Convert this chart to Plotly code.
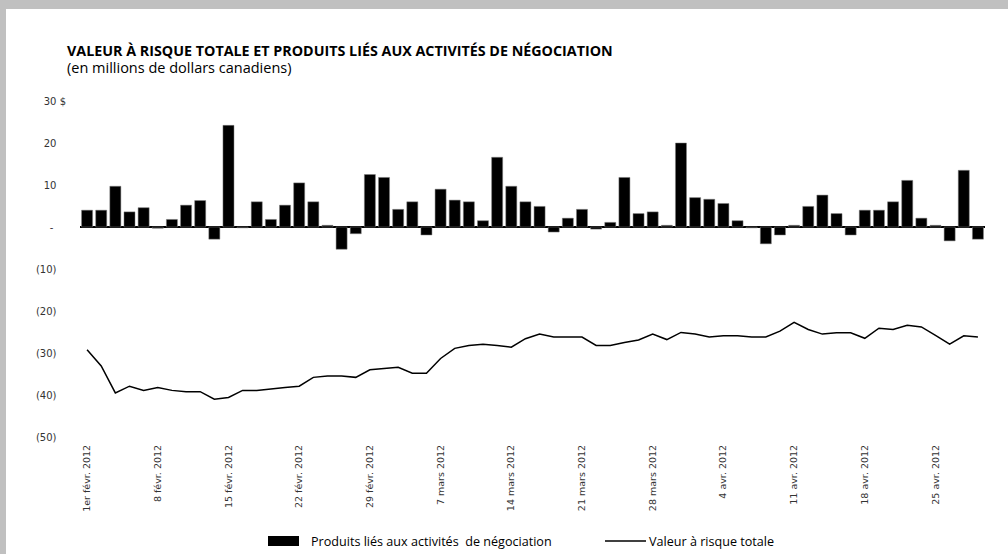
import plotly.graph_objects as go

dates = [
    "2012-02-01", "2012-02-02", "2012-02-03",
    "2012-02-06", "2012-02-07", "2012-02-08", "2012-02-09", "2012-02-10",
    "2012-02-13", "2012-02-14", "2012-02-15", "2012-02-16", "2012-02-17",
    "2012-02-20", "2012-02-21", "2012-02-22", "2012-02-23", "2012-02-24",
    "2012-02-27", "2012-02-28", "2012-02-29", "2012-03-01", "2012-03-02",
    "2012-03-05", "2012-03-06", "2012-03-07", "2012-03-08", "2012-03-09",
    "2012-03-12", "2012-03-13", "2012-03-14", "2012-03-15", "2012-03-16",
    "2012-03-19", "2012-03-20", "2012-03-21", "2012-03-22", "2012-03-23",
    "2012-03-26", "2012-03-27", "2012-03-28", "2012-03-29", "2012-03-30",
    "2012-04-02", "2012-04-03", "2012-04-04", "2012-04-05", "2012-04-06",
    "2012-04-09", "2012-04-10", "2012-04-11", "2012-04-12", "2012-04-13",
    "2012-04-16", "2012-04-17", "2012-04-18", "2012-04-19", "2012-04-20",
    "2012-04-23", "2012-04-24", "2012-04-25", "2012-04-26", "2012-04-27",
    "2012-04-30",
]

trading_revenue = [
    4.0, 4.0, 9.7, 3.6, 4.6, -0.3, 1.8, 5.2, 6.3, -2.9,
    24.2, -0.2, 6.0, 1.8, 5.2, 10.5, 6.0, 0.4, -5.3, -1.6,
    12.5, 11.8, 4.2, 6.0, -1.9, 9.0, 6.4, 6.0, 1.5, 16.6,
    9.7, 6.0, 4.9, -1.2, 2.1, 4.2, -0.5, 1.1, 11.8, 3.2,
    3.6, 0.4, 20.0, 7.0, 6.6, 5.6, 1.5, -0.2, -4.0, -1.9,
    0.4, 4.9, 7.6, 3.2, -1.9, 4.0, 4.0, 6.0, 11.1, 2.1,
    0.4, -3.3, 13.5, -2.9,
]

total_var = [
    -29.2, -33.1, -39.5, -37.9, -38.9, -38.2, -38.9, -39.2, -39.2, -41.0,
    -40.6, -38.9, -38.9, -38.5, -38.2, -37.9, -35.8, -35.5, -35.5, -35.8,
    -34.0, -33.7, -33.4, -34.8, -34.8, -31.3, -28.9, -28.2, -27.9, -28.2,
    -28.6, -26.6, -25.5, -26.2, -26.2, -26.2, -28.2, -28.2, -27.5, -26.9,
    -25.5, -26.8, -25.1, -25.5, -26.2, -25.9, -25.9, -26.2, -26.2, -24.8,
    -22.7, -24.4, -25.5, -25.2, -25.2, -26.5, -24.1, -24.4, -23.4, -23.8,
    -25.8, -27.9, -25.9, -26.2,
]

tick_dates = ["2012-02-01", "2012-02-08", "2012-02-15", "2012-02-22", "2012-02-29",
              "2012-03-07", "2012-03-14", "2012-03-21", "2012-03-28", "2012-04-04",
              "2012-04-11", "2012-04-18", "2012-04-25"]
tick_labels = ["1er févr. 2012", "8 févr. 2012", "15 févr. 2012", "22 févr. 2012",
               "29 févr. 2012", "7 mars 2012", "14 mars 2012", "21 mars 2012",
               "28 mars 2012", "4 avr. 2012", "11 avr. 2012", "18 avr. 2012",
               "25 avr. 2012"]

NB = "\u00a0"
y_vals = [30, 20, 10, 0, -10, -20, -30, -40, -50]
y_text = ["30 $", "20" + NB * 3, "10" + NB * 3, "-" + NB * 4, "(10)" + NB * 3,
          "(20)" + NB * 3, "(30)" + NB * 3, "(40)" + NB * 3, "(50)" + NB * 3]

bar_name = "Produits liés aux activités  de négociation"
line_name = "Valeur à risque totale"

W, H = 1008, 554
ML, MR, MT, MB = 80, 23, 101, 117
PW, PH = W - ML - MR, H - MT - MB


def px_x(x):
    return (x - ML) / PW


def px_y(y):
    return (H - MB - y) / PH


fig = go.Figure()
fig.add_trace(go.Bar(
    x=dates, y=trading_revenue, name=bar_name, showlegend=False,
    marker=dict(color="#000000", line=dict(color="#7f7f7f", width=0.5)),
))
fig.add_trace(go.Scatter(
    x=dates, y=total_var, mode="lines", name=line_name, showlegend=False,
    line=dict(color="#000000", width=1.5),
))

legend_y = 541
shapes = [
    dict(type="rect", xref="paper", yref="paper", layer="below",
         x0=px_x(6), x1=px_x(W + 5), y0=px_y(H + 5), y1=px_y(9),
         fillcolor="#ffffff", line=dict(width=0)),
    dict(type="rect", xref="paper", yref="paper",
         x0=px_x(268), x1=px_x(299), y0=px_y(legend_y + 5), y1=px_y(legend_y - 5),
         fillcolor="#000000", line=dict(width=0)),
    dict(type="line", xref="paper", yref="paper",
         x0=px_x(605), x1=px_x(646), y0=px_y(legend_y), y1=px_y(legend_y),
         line=dict(color="#000000", width=1.3)),
]

annotations = [
    dict(text="<b>VALEUR À RISQUE TOTALE ET PRODUITS LIÉS AUX ACTIVITÉS DE NÉGOCIATION</b>",
         xref="paper", yref="paper", x=px_x(65), y=px_y(50), xanchor="left", yanchor="middle",
         showarrow=False, font=dict(family="Open Sans", size=14.3, color="#000000")),
    dict(text="(en millions de dollars canadiens)",
         xref="paper", yref="paper", x=px_x(65), y=px_y(68), xanchor="left", yanchor="middle",
         showarrow=False, font=dict(family="Open Sans", size=14.5, color="#000000")),
    dict(text=bar_name, xref="paper", yref="paper", x=px_x(309), y=px_y(legend_y),
         xanchor="left", yanchor="middle", showarrow=False,
         font=dict(family="Open Sans", size=12.6, color="#000000")),
    dict(text=line_name, xref="paper", yref="paper", x=px_x(647), y=px_y(legend_y),
         xanchor="left", yanchor="middle", showarrow=False,
         font=dict(family="Open Sans", size=12.6, color="#000000")),
]

fig.update_layout(
    width=W, height=H,
    margin=dict(l=ML, r=MR, t=MT, b=MB),
    paper_bgcolor="#c0c0c0",
    plot_bgcolor="rgba(0,0,0,0)",
    bargap=0.22,
    font=dict(family="DejaVu Sans", size=10, color="#333333"),
    xaxis=dict(
        type="category", categoryorder="array", categoryarray=dates,
        tickmode="array", tickvals=tick_dates, ticktext=tick_labels,
        tickangle=-90, showgrid=False, showline=False, ticks="",
        tickfont=dict(family="DejaVu Sans", size=9.5, color="#333333"),
        ticklabelstandoff=5,
        range=[-0.5, len(dates) - 0.5],
    ),
    yaxis=dict(
        range=[-50, 30], tickmode="array", tickvals=y_vals, ticktext=y_text,
        showgrid=False, showline=False, ticks="",
        zeroline=True, zerolinecolor="#000000", zerolinewidth=2,
        tickfont=dict(family="DejaVu Sans", size=10, color="#333333"),
        ticklabelstandoff=13,
    ),
    shapes=shapes,
    annotations=annotations,
)

fig.write_html(
    "out.html",
    config={"displayModeBar": False},
    post_script="document.body.style.margin='0';document.body.style.overflow='hidden';",
)
